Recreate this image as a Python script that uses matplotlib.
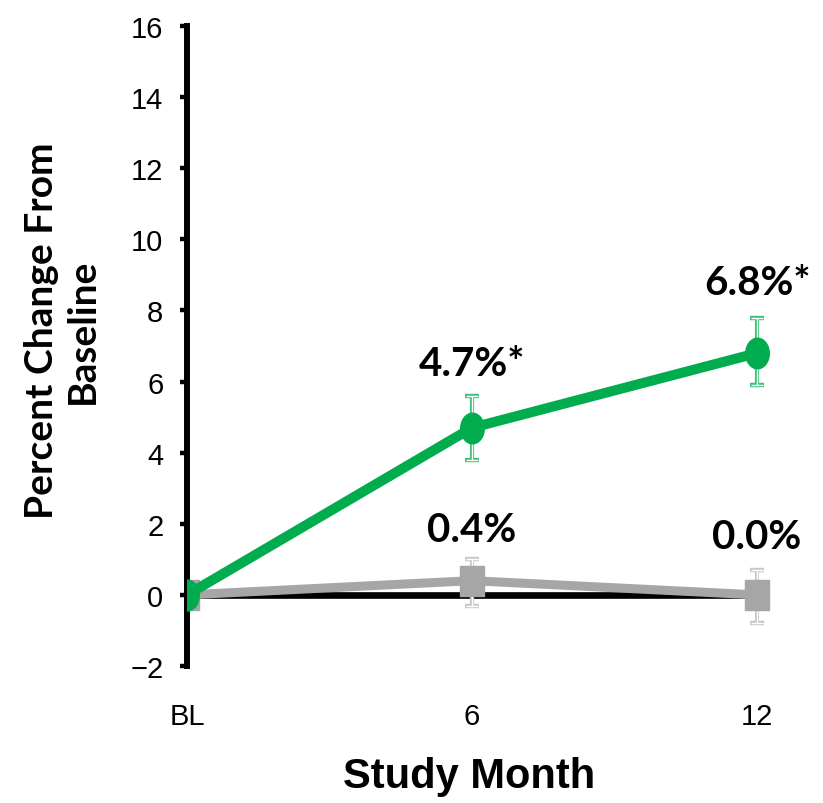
import matplotlib.pyplot as plt
from matplotlib.path import Path
from matplotlib.transforms import Affine2D

months = [0, 6, 12]
month_labels = ["BL", "6", "12"]
treat = [0.0, 4.7, 6.8]
treat_lo = [0.0, 3.8, 5.9]
treat_hi = [0.0, 5.6, 7.8]
ctrl = [0.0, 0.4, 0.0]
ctrl_lo = [0.0, -0.3, -0.8]
ctrl_hi = [0.0, 1.0, 0.7]
treat_text = ["", "4.7%*", "6.8%*"]
ctrl_text = ["", "0.4%", "0.0%"]

green = "#00AC4E"
green_edge = "#3CC37A"
gray = "#A6A6A6"
gray_edge = "#C8C8C8"

ellipse = Path.unit_circle().transformed(Affine2D().scale(0.77, 1.0))
rect = Path([(-0.77, -1), (0.77, -1), (0.77, 1), (-0.77, 1), (-0.77, -1)],
            [Path.MOVETO, Path.LINETO, Path.LINETO, Path.LINETO, Path.CLOSEPOLY])

fig = plt.figure(figsize=(8.23, 8.04), dpi=100)
ax = fig.add_axes([187/823, 137/804, (776-187)/823, (667-27)/804])

ax.axhline(0, xmin=0, xmax=12/12.4, color="black", lw=4.8, zorder=1)


def err(x, y, lo, hi, c_edge, z):
    ye = [[y[i] - lo[i] for i in range(len(y))], [hi[i] - y[i] for i in range(len(y))]]
    ax.errorbar(x[1:], y[1:], yerr=[ye[0][1:], ye[1][1:]], fmt="none", ecolor=c_edge,
                elinewidth=3.0, capsize=5, capthick=3.2, zorder=z)
    ax.errorbar(x[1:], y[1:], yerr=[ye[0][1:], ye[1][1:]], fmt="none", ecolor="white",
                elinewidth=1.0, capsize=4, capthick=1.0, zorder=z + 0.1)


err(months, ctrl, ctrl_lo, ctrl_hi, gray_edge, 2)
ax.plot(months, ctrl, color=gray, lw=6.5, marker=rect, markersize=22, zorder=3)
err(months, treat, treat_lo, treat_hi, green_edge, 4)
ax.plot(months, treat, color=green, lw=7.2, marker=ellipse, markersize=22, zorder=5)

bold_font = ["Lato", "DejaVu Sans"]
for x, y, t in zip(months, treat, treat_text):
    if t:
        off = 46 if x == 6 else 51
        ax.annotate(t, (x, y), xytext=(0, off), textcoords="offset points",
                    ha="center", va="center", fontsize=29, fontweight="bold",
                    family=bold_font)
for x, y, t in zip(months, ctrl, ctrl_text):
    if t:
        off = 37 if x == 6 else 42
        ax.annotate(t, (x, y), xytext=(0, off), textcoords="offset points",
                    ha="center", va="center", fontsize=29, fontweight="bold",
                    family=bold_font)

ax.set_xlim(0, 12.4)
ax.set_ylim(-2, 16)
ax.set_yticks(range(-2, 17, 2))
ax.set_yticklabels([str(v).replace("-", "\u2212") for v in range(-2, 17, 2)],
                   family="Liberation Sans", fontsize=21)
ax.set_xticks(months)
ax.set_xticklabels(month_labels, family="Liberation Sans", fontsize=21)
ax.tick_params(axis="x", length=0, pad=26)
ax.tick_params(axis="y", length=5, width=3.2, direction="out", pad=12)

for s in ["top", "right", "bottom"]:
    ax.spines[s].set_visible(False)
ax.spines["left"].set_linewidth(4.3)

fig.text(469/823, 1 - 777/804, "Study Month", ha="center", va="center",
         fontsize=30, fontweight="bold", family="Liberation Sans")
fig.text(62/823, 1 - 331/804, "Percent Change From\nBaseline", rotation=90,
         ha="center", va="center", multialignment="center", fontsize=28,
         fontweight="bold", family=bold_font, linespacing=1.2)

fig.savefig("out.png", dpi=100)
